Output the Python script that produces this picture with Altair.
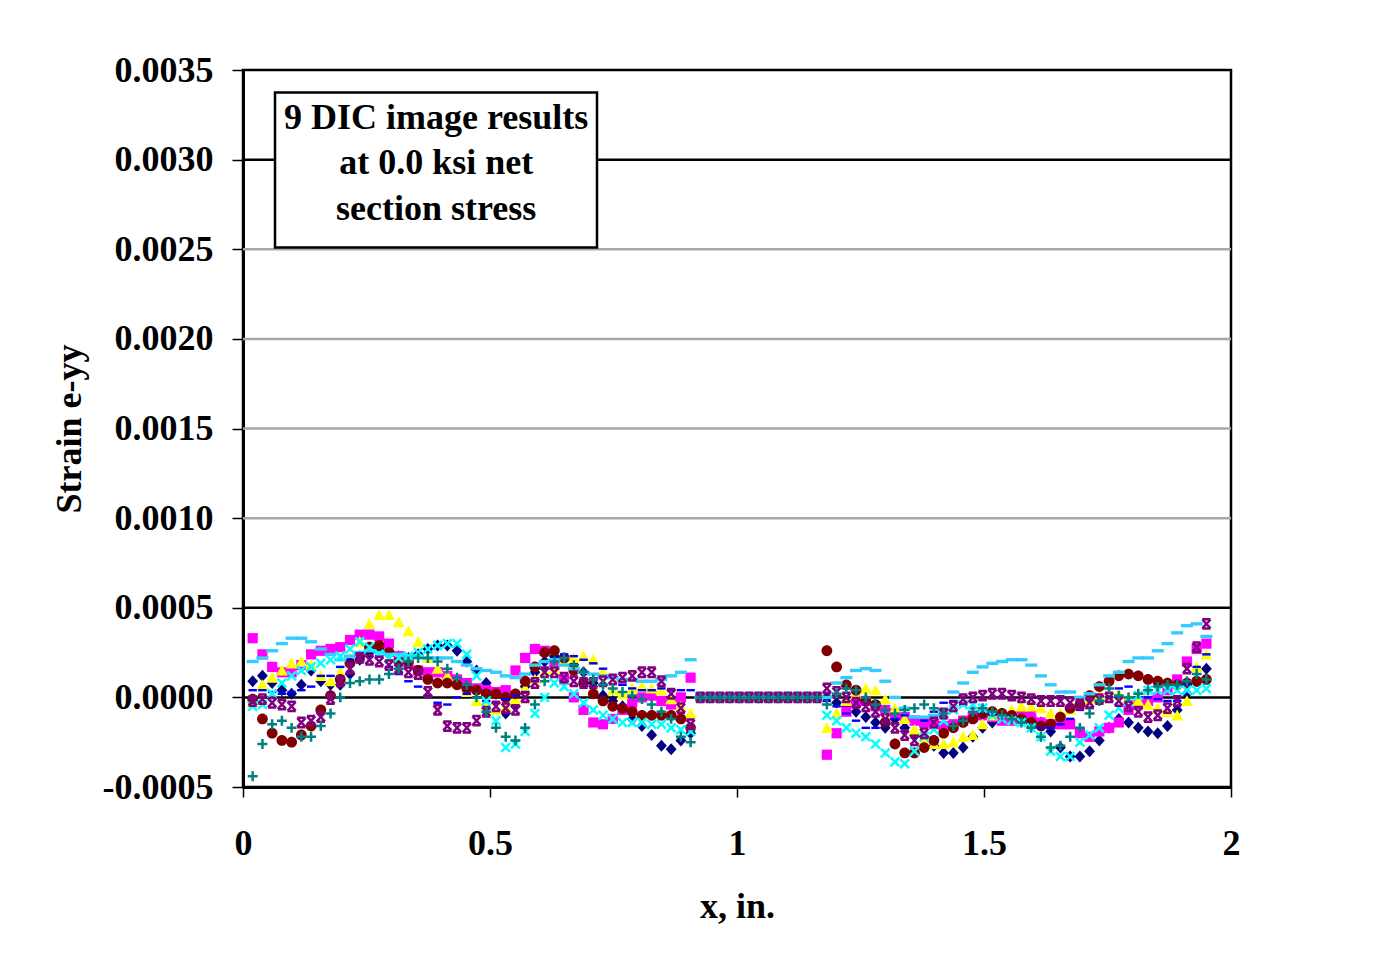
import altair as alt
import numpy as np
import pandas as pd

# ---------------- data (strain in units of 1e-5) ----------------
series_names = ["S1", "S2", "S3", "S4", "S5", "S6", "S7", "S8", "S9"]
series_colors = ["#000080", "#FF00FF", "#FFFF00", "#00FFFF", "#800080",
                 "#800000", "#008080", "#0000FF", "#33CCFF"]

# x grid of the DIC points (in.)
x_grid = np.round(0.0196 + 0.0197 * np.arange(99), 4)

gap_zero = [0] * 13  # hole region, strain reported as zero

navy_a = [9, 12, 8, 4, 2, 7, 15, 9, 7, 7, 13, 21, 25, 27, 26, 23, 22, 24, 27, 29,
          29, 26, 20, 15, 8, 2, -9, -5, 6, 14, 20, 23, 21, 18, 14, 8, 1, -2, -5, -12,
          -16, -21, -27, -29, -24, -20]
navy_b = [0, -3, -5, -8, -11, -14, -17, -12, -17, -21, -22, -27, -31, -31, -28, -22, -17, -14, -12, -10,
          -9, -11, -14, -19, -28, -33, -33, -30, -24, -17, -12, -14, -17, -19, -20, -16, -7, 2, 9, 16]

magenta_a = [33, 24, 17, 14, 14, 18, 24, 26, 27, 28, 32, 35, 35, 34, 30, 23, 19, 15, 14, 14,
             12, 10, 8, 5, 4, 3, 4, 15, 22, 27, 26, 18, 10, 0, -7, -14, -15, -12, -7, -3,
             0, 1, -2, -4, 0, 11]
magenta_b = [-32, -20, -8, -3, -2, -5, -7, -9, -11, -13, -14, -15, -16, -15, -13, -11, -10, -11, -13, -13,
             -10, -10, -14, -15, -15, -15, -20, -22, -19, -17, -14, -7, -4, -2, 0, 4, 10, 20, 27, 30]

yellow_a = [-3, 7, 11, 15, 19, 20, 18, 12, 9, 14, 22, 31, 41, 46, 46, 42, 37, 31, 22, 16,
            12, 8, 3, -2, -4, -7, -5, -1, 5, 10, 14, 16, 20, 22, 23, 21, 14, 4, 2, 5,
            6, 5, 4, -1, -5, -9]
yellow_b = [-17, -9, -2, 2, 5, 4, -1, -6, -12, -18, -23, -26, -26, -25, -22, -21, -15, -10, -8, -7,
            -5, -5, -6, -9, -9, -7, -4, -1, 1, 2, 2, 0, -2, -4, -6, -8, -10, -2, 17, 24]

cyan_a = [-5, -4, 2, 8, 12, 15, 17, 19, 21, 23, 27, 31, 28, 24, 22, 22, 23, 25, 27, 29,
          30, 30, 24, 12, -2, -13, -28, -26, -19, -9, 0, 8, 6, 2, -3, -7, -10, -12, -14, -14,
          -14, -15, -15, -17, -18, -19]
cyan_b = [-10, -13, -17, -20, -22, -26, -31, -36, -37, -30, -22, -18, -13, -7, -4, -4, -6, -10, -12, -13,
          -14, -17, -22, -30, -33, -33, -25, -21, -17, -10, -6, -2, 1, 4, 4, 4, 4, 4, 4, 5]

purple_a = [-2, -1, -3, -4, -5, -14, -13, -11, -1, 9, 16, 22, 21, 20, 18, 16, 14, 13, 3, -7,
            -16, -17, -17, -13, -8, -5, -6, -7, 0, 8, 14, 14, 11, 9, 8, 8, 9, 10, 11, 12,
            14, 14, 9, 2, -6, -15]
purple_b = [5, 3, 0, -3, -5, -8, -12, -17, -21, -24, -20, -14, -9, -5, -1, 0, 1, 2, 2, 1,
            0, -1, -2, -2, -2, -3, -4, -3, -1, 0, -2, -5, -8, -11, -10, -6, -2, 16, 28, 41]

darkred_a = [-1, -12, -20, -24, -25, -21, -16, -7, 1, 10, 19, 23, 28, 29, 25, 20, 20, 15, 10, 8,
             8, 7, 5, 4, 2, 2, 0, 2, 9, 17, 25, 26, 22, 15, 8, 2, -2, -5, -6, -8,
             -10, -10, -10, -10, -12, -17]
darkred_b = [26, 17, 7, 4, -2, -4, -14, -26, -31, -31, -28, -24, -20, -17, -14, -12, -9, -8, -9, -10,
             -12, -14, -16, -15, -11, -6, -4, 1, 6, 9, 12, 13, 12, 10, 9, 8, 7, 8, 9, 10]

teal_a = [-44, -26, -15, -13, -17, -22, -22, -16, -9, 0, 8, 9, 10, 10, 13, 16, 20, 22, 22, 20,
          16, 11, 7, 0, -8, -17, -22, -24, -17, -4, 9, 20, 22, 18, 14, 10, 7, 5, 3, 1,
          -1, -4, -8, -12, -22, -25]
teal_b = [-4, 2, 5, 4, 0, -4, -7, -9, -7, -6, -4, -6, -9, -16, -13, -8, -6, -8, -10, -12,
          -14, -17, -22, -28, -27, -22, -17, -9, -2, 5, 1, 0, 2, 4, 6, 7, 7, 9, 13, 10]

blue_a = [4, 4, 3, 2, 3, 4, 6, 12, 12, 17, 21, 23, 26, 23, 17, 13, 9, 6, 1, -3,
          -4, 0, 2, 0, -2, -3, -1, 1, 3, 9, 16, 22, 24, 23, 21, 19, 16, 11, 7, 5,
          4, 4, 5, 4, 4, 4]
blue_b = [-2, -5, -9, -13, -17, -17, -15, -12, -10, -11, -13, -8, -3, -2, -4, -6, -8, -9, -10, -12,
          -14, -16, -17, -17, -15, -12, -7, -6, -2, 0, 5, 6, 2, 0, -1, -2, -2, 7, 17, 24]

sky_a = [20, 22, 26, 30, 33, 33, 31, 27, 24, 21, 23, 25, 26, 25, 24, 24, 23, 23, 22, 22,
         22, 20, 18, 16, 15, 14, 12, 11, 13, 18, 20, 21, 18, 16, 14, 13, 12, 11, 10, 10,
         9, 9, 10, 12, 14, 21]
sky_b = [0, 8, 11, 15, 16, 15, 9, 0, -6, -11, -11, -10, -7, 3, 8, 14, 17, 19, 20, 21,
         21, 18, 12, 7, 3, 3, 0, 2, 7, 12, 14, 20, 22, 22, 26, 30, 36, 40, 41, 34]

seg_a = [navy_a, magenta_a, yellow_a, cyan_a, purple_a, darkred_a, teal_a, blue_a, sky_a]
seg_b = [navy_b, magenta_b, yellow_b, cyan_b, purple_b, darkred_b, teal_b, blue_b, sky_b]

grid_values = [0.0030, 0.0025, 0.0020, 0.0015, 0.0010, 0.0005, 0.0]
grid_colors = ["#000000", "#a8a8a8", "#a8a8a8", "#a8a8a8", "#a8a8a8", "#000000", "#000000"]

box_x = [0.0648, 0.7166]
box_y = [0.00251, 0.003375]
note_lines = ["9 DIC image results", "at 0.0 ksi net", "section stress"]
note_x = 0.391
note_y = [0.003232, 0.002979, 0.002722]

y_ticks = [-0.0005, 0.0, 0.0005, 0.0010, 0.0015, 0.0020, 0.0025, 0.0030, 0.0035]
x_ticks = [0, 0.5, 1, 1.5, 2]

# ---------------- build tables ----------------
rows = []
for k, name in enumerate(series_names):
    vals = seg_a[k] + gap_zero + seg_b[k]
    for xv, v in zip(x_grid, vals):
        rows.append({"series": name, "order": k, "x": float(xv), "y": v * 1e-5})
df = pd.DataFrame(rows)

grid_df = pd.DataFrame({"y": grid_values, "c": grid_colors})
box_df = pd.DataFrame({"x": [box_x[0]], "x2": [box_x[1]], "y": [box_y[0]], "y2": [box_y[1]]})
note_df = pd.DataFrame({"t": note_lines, "x": [note_x] * 3, "y": note_y})

FONT = "Liberation Serif"

xscale = alt.Scale(domain=[0, 2], nice=False, zero=False)
yscale = alt.Scale(domain=[-0.0005, 0.0035], nice=False, zero=False)

x_axis = alt.Axis(values=x_ticks, format="~g", title="x, in.", grid=False,
                  labelFont=FONT, labelFontSize=36, labelFontWeight="bold", labelColor="black",
                  titleFont=FONT, titleFontSize=36, titleFontWeight="bold", titleColor="black",
                  tickColor="black", tickSize=10, tickWidth=1.5, domainColor="black", domainWidth=3,
                  labelPadding=29, titlePadding=28, labelFlush=False)
y_axis = alt.Axis(values=y_ticks, title="Strain e-yy", grid=False,
                  labelExpr="datum.value < 0 ? '-' + format(-datum.value, '.4f') : format(datum.value, '.4f')",
                  labelFont=FONT, labelFontSize=36, labelFontWeight="bold", labelColor="black",
                  titleFont=FONT, titleFontSize=36, titleFontWeight="bold", titleColor="black",
                  tickColor="black", tickSize=11, tickWidth=1.5, domainColor="black", domainWidth=3,
                  labelPadding=19, titlePadding=14)

base_rules = alt.Chart(grid_df).mark_rule(strokeWidth=2.5).encode(
    x=alt.value(0), x2=alt.value(988),
    y=alt.Y("y:Q", scale=yscale, axis=y_axis),
    color=alt.Color("c:N", scale=None),
)

box = alt.Chart(box_df).mark_rect(fill="white", stroke="black", strokeWidth=2.5).encode(
    x=alt.X("x:Q", scale=xscale, axis=x_axis), x2="x2:Q",
    y=alt.Y("y:Q", scale=yscale), y2="y2:Q",
)

note = alt.Chart(note_df).mark_text(font=FONT, fontSize=36, fontWeight="bold", color="black",
                                     align="center", baseline="middle").encode(
    x=alt.X("x:Q", scale=xscale), y=alt.Y("y:Q", scale=yscale), text="t:N")

filled_names = ["S1", "S2", "S3", "S6", "S8", "S9"]
filled_shapes = [
    "M0,-1L0.9,0L0,1L-0.9,0Z",
    "M-0.85,-0.85H0.85V0.85H-0.85Z",
    "M0,-0.95L1,0.85L-1,0.85Z",
    "M-0.9,0A0.9,0.9,0,1,1,0.9,0A0.9,0.9,0,1,1,-0.9,0Z",
    "M-0.7,-0.2H0.7V0.2H-0.7Z",
    "M-1,-0.28H1V0.28H-1Z",
]
filled_colors = [series_colors[series_names.index(n)] for n in filled_names]
stroke_names = ["S4", "S5", "S7"]
stroke_shapes = [
    "M-0.8,-0.8L0.8,0.8M-0.8,0.8L0.8,-0.8",
    "M-0.75,-0.8L0.75,0.8M-0.75,0.8L0.75,-0.8M-0.75,-0.85H0.75M-0.75,0.85H0.75",
    "M-0.9,0H0.9M0,-0.9V0.9",
]
stroke_colors = [series_colors[series_names.index(n)] for n in stroke_names]

pts_filled = alt.Chart(df).transform_filter(
    alt.FieldOneOfPredicate(field="series", oneOf=filled_names)
).mark_point(filled=True, opacity=1, size=144).encode(
    x=alt.X("x:Q", scale=xscale),
    y=alt.Y("y:Q", scale=yscale),
    color=alt.Color("series:N", scale=alt.Scale(domain=filled_names, range=filled_colors), legend=None),
    shape=alt.Shape("series:N", scale=alt.Scale(domain=filled_names, range=filled_shapes), legend=None),
    order="order:Q",
)

pts_stroke = alt.Chart(df).transform_filter(
    alt.FieldOneOfPredicate(field="series", oneOf=stroke_names)
).mark_point(filled=False, opacity=1, size=121, strokeWidth=2.5).encode(
    x=alt.X("x:Q", scale=xscale),
    y=alt.Y("y:Q", scale=yscale),
    stroke=alt.Stroke("series:N", scale=alt.Scale(domain=stroke_names, range=stroke_colors), legend=None),
    shape=alt.Shape("series:N", scale=alt.Scale(domain=stroke_names, range=stroke_shapes), legend=None),
    order="order:Q",
)

chart = alt.layer(base_rules, box, note, pts_filled, pts_stroke).resolve_scale(
    color="independent", shape="independent"
).properties(
    width=988, height=717,
    autosize=alt.AutoSizeParams(type="none"),
    padding={"left": 235, "top": 62, "right": 120, "bottom": 150},
    background="white",
).configure_view(stroke="black", strokeWidth=2.5)

chart.save("out.html", embed_options={"renderer": "svg", "actions": False})
